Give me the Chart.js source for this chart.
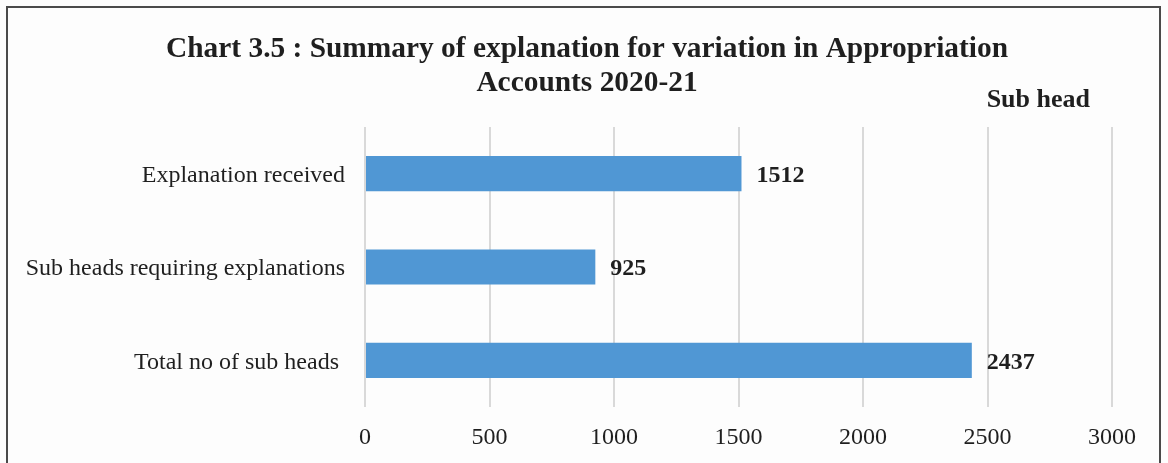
<!DOCTYPE html>
<html>
<head>
<meta charset="utf-8">
<script src="https://cdn.jsdelivr.net/npm/chart.js@4/dist/chart.umd.min.js"></script>
<style>
  html, body { margin: 0; padding: 0; background: #fdfdfd; }
  #frame {
    position: absolute; left: 6px; top: 6px; width: 1155px; height: 480px;
    border: 2px solid #4a4a4a; box-sizing: border-box;
  }
  #wrap { position: absolute; left: 0; top: 0; width: 1168px; height: 463px; }
</style>
</head>
<body>
<div id="frame"></div>
<div id="wrap"><canvas id="chart-subheads"></canvas></div>
<script>
// Chart data
const categories = ['Explanation received', 'Sub heads requiring explanations', 'Total no of sub heads '];
const subHeadCounts = [1512, 925, 2437];
const titleLines = ['Chart 3.5 : Summary of explanation for variation in Appropriation', 'Accounts 2020-21'];
const unitLabel = 'Sub head';

const SERIF = '"Liberation Serif", "Times New Roman", serif';
const TEXT = '#1f1f1f';

// title centred on the frame (not the plot), value labels, unit label
const chartText = {
  id: 'chartText',
  afterDatasetsDraw(chart) {
    const { ctx, chartArea } = chart;
    const meta = chart.getDatasetMeta(0);
    ctx.save();
    ctx.fillStyle = TEXT;
    ctx.textBaseline = 'middle';

    ctx.font = 'bold 29.4px ' + SERIF;
    ctx.textAlign = 'center';
    titleLines.forEach((line, i) => ctx.fillText(line, 587, 49 + i * 34));

    ctx.font = 'bold 24px ' + SERIF;
    ctx.textAlign = 'left';
    meta.data.forEach((bar, i) => {
      ctx.fillText(String(subHeadCounts[i]), bar.x + 15, bar.y + 2);
    });

    ctx.font = 'bold 26px ' + SERIF;
    ctx.textAlign = 'right';
    ctx.fillText(unitLabel, chartArea.right - 22, chartArea.top - 27);
    ctx.restore();
  }
};

new Chart(document.getElementById('chart-subheads'), {
  type: 'bar',
  data: {
    labels: categories,
    datasets: [{
      data: subHeadCounts,
      backgroundColor: '#5097d4',
      borderWidth: 0,
      barPercentage: 0.47,
      categoryPercentage: 0.8
    }]
  },
  plugins: [chartText],
  options: {
    indexAxis: 'y',
    responsive: true,
    maintainAspectRatio: false,
    animation: false,
    layout: { padding: { left: 10, right: 56, top: 127, bottom: 11 } },
    plugins: {
      legend: { display: false },
      tooltip: { enabled: false },
      title: { display: false }
    },
    scales: {
      x: {
        min: 0, max: 3000,
        ticks: {
          stepSize: 500, color: TEXT, font: { family: SERIF, size: 24 }, padding: 16,
          callback: v => String(v)
        },
        grid: { color: '#d9d9d9', lineWidth: 2, drawTicks: false },
        border: { display: false },
        afterFit: s => { s.height = 45; }
      },
      y: {
        ticks: { color: TEXT, font: { family: SERIF, size: 24 }, padding: 20, labelOffset: 2 },
        grid: { display: false, drawTicks: false },
        border: { display: false },
        afterFit: s => { s.width = 355; }
      }
    }
  }
});
</script>
</body>
</html>
